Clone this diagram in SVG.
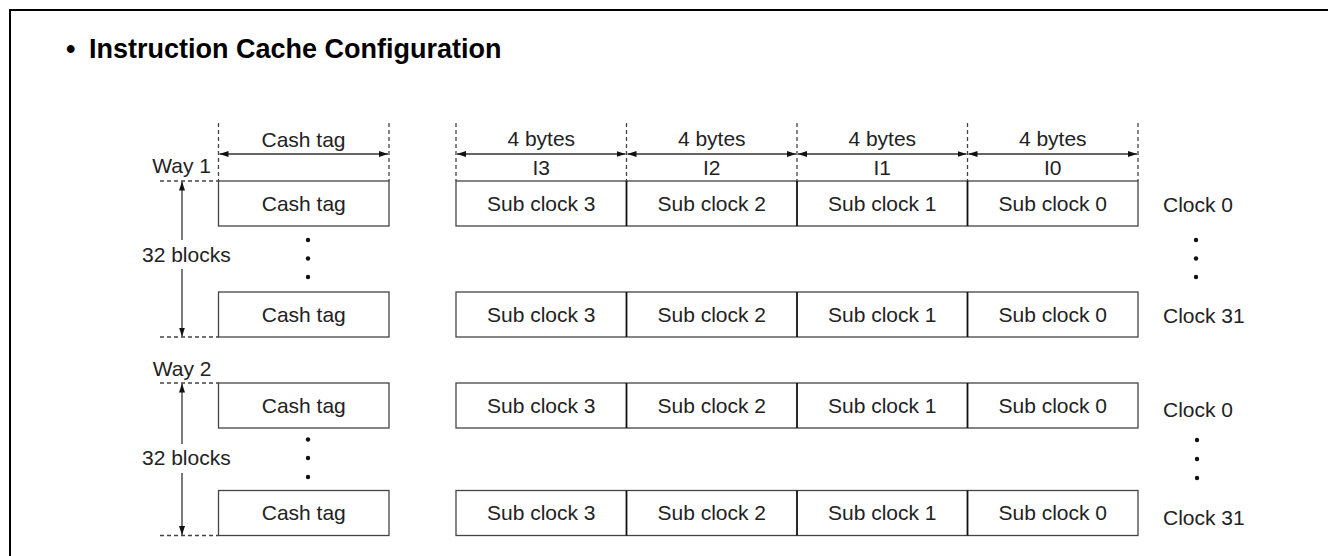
<svg xmlns="http://www.w3.org/2000/svg" width="1328" height="556" viewBox="0 0 1328 556">
<style>
text{font-family:"Liberation Sans",Arial,sans-serif;font-size:21px;fill:#222}
.title{font-size:27px;font-weight:bold;fill:#000}
.c{text-anchor:middle}
.e{text-anchor:end}
.box{fill:#fff;stroke:#444;stroke-width:1.3}
.div{stroke:#111;stroke-width:1.8}
.dash{stroke:#444;stroke-width:1.3;stroke-dasharray:4,3;fill:none}
.arr{stroke:#333;stroke-width:1.3;fill:none;marker-end:url(#ah);marker-start:url(#ah)}
.arr1{stroke:#333;stroke-width:1.3;fill:none;marker-end:url(#ah)}
.frame{stroke:#000;stroke-width:2;fill:none}
.dot{fill:#111}
</style>
<defs>
<marker id="ah" markerUnits="userSpaceOnUse" markerWidth="9" markerHeight="6" refX="9" refY="3" orient="auto-start-reverse">
<path d="M0,0 L9,3 L0,6 z" fill="#111"/>
</marker>
</defs>
<polyline class="frame" points="10,556 10,10 1328,10"/>
<g id="title">
<text class="title" x="66" y="58">•</text>
<text class="title" x="89" y="58">Instruction Cache Configuration</text>
</g>
<g id="header">
<text class="c" x="303.5" y="146.5">Cash tag</text>
<text class="c" x="541.25" y="145.5">4 bytes</text>
<text class="c" x="711.75" y="145.5">4 bytes</text>
<text class="c" x="882.25" y="145.5">4 bytes</text>
<text class="c" x="1052.75" y="145.5">4 bytes</text>
<text class="c" x="541.25" y="175">I3</text>
<text class="c" x="711.75" y="175">I2</text>
<text class="c" x="882.25" y="175">I1</text>
<text class="c" x="1052.75" y="175">I0</text>
</g>
<g id="way1-label"><text class="e" x="211" y="173">Way 1</text><text x="142" y="262">32 blocks</text></g>
<g id="way2-label"><text class="e" x="211.5" y="376">Way 2</text><text x="142" y="465">32 blocks</text></g>
<g id="w1-tag0"><rect class="box" x="218.5" y="181" width="170.5" height="45"/><text class="c" x="303.75" y="210.5">Cash tag</text></g>
<g id="w1-tag31"><rect class="box" x="218.5" y="292" width="170.5" height="45"/><text class="c" x="303.75" y="321.5">Cash tag</text></g>
<g id="w2-tag0"><rect class="box" x="218.5" y="383" width="170.5" height="45"/><text class="c" x="303.75" y="412.5">Cash tag</text></g>
<g id="w2-tag31"><rect class="box" x="218.5" y="490.5" width="170.5" height="45"/><text class="c" x="303.75" y="520">Cash tag</text></g>
<g id="w1-block0">
<rect class="box" x="456" y="181" width="682" height="45"/>
<line class="div" x1="626.5" y1="181" x2="626.5" y2="226"/><line class="div" x1="797" y1="181" x2="797" y2="226"/><line class="div" x1="967.5" y1="181" x2="967.5" y2="226"/>
<text class="c" x="541.25" y="210.5">Sub clock 3</text><text class="c" x="711.75" y="210.5">Sub clock 2</text><text class="c" x="882.25" y="210.5">Sub clock 1</text><text class="c" x="1052.75" y="210.5">Sub clock 0</text>
<text x="1163" y="212">Clock 0</text>
</g>
<g id="w1-block31">
<rect class="box" x="456" y="292" width="682" height="45"/>
<line class="div" x1="626.5" y1="292" x2="626.5" y2="337"/><line class="div" x1="797" y1="292" x2="797" y2="337"/><line class="div" x1="967.5" y1="292" x2="967.5" y2="337"/>
<text class="c" x="541.25" y="321.5">Sub clock 3</text><text class="c" x="711.75" y="321.5">Sub clock 2</text><text class="c" x="882.25" y="321.5">Sub clock 1</text><text class="c" x="1052.75" y="321.5">Sub clock 0</text>
<text x="1163" y="323">Clock 31</text>
</g>
<g id="w2-block0">
<rect class="box" x="456" y="383" width="682" height="45"/>
<line class="div" x1="626.5" y1="383" x2="626.5" y2="428"/><line class="div" x1="797" y1="383" x2="797" y2="428"/><line class="div" x1="967.5" y1="383" x2="967.5" y2="428"/>
<text class="c" x="541.25" y="412.5">Sub clock 3</text><text class="c" x="711.75" y="412.5">Sub clock 2</text><text class="c" x="882.25" y="412.5">Sub clock 1</text><text class="c" x="1052.75" y="412.5">Sub clock 0</text>
<text x="1163" y="417">Clock 0</text>
</g>
<g id="w2-block31">
<rect class="box" x="456" y="490.5" width="682" height="45"/>
<line class="div" x1="626.5" y1="490.5" x2="626.5" y2="535.5"/><line class="div" x1="797" y1="490.5" x2="797" y2="535.5"/><line class="div" x1="967.5" y1="490.5" x2="967.5" y2="535.5"/>
<text class="c" x="541.25" y="520">Sub clock 3</text><text class="c" x="711.75" y="520">Sub clock 2</text><text class="c" x="882.25" y="520">Sub clock 1</text><text class="c" x="1052.75" y="520">Sub clock 0</text>
<text x="1163" y="525">Clock 31</text>
</g>
<g id="ellipses">
<circle class="dot" cx="308" cy="240" r="2.2"/><circle class="dot" cx="308" cy="258.5" r="2.2"/><circle class="dot" cx="308" cy="277" r="2.2"/>
<circle class="dot" cx="1196" cy="240" r="2.2"/><circle class="dot" cx="1196" cy="258.5" r="2.2"/><circle class="dot" cx="1196" cy="277" r="2.2"/>
<circle class="dot" cx="308" cy="439.5" r="2.2"/><circle class="dot" cx="308" cy="458" r="2.2"/><circle class="dot" cx="308" cy="477" r="2.2"/>
<circle class="dot" cx="1197" cy="440" r="2.2"/><circle class="dot" cx="1197" cy="459" r="2.2"/><circle class="dot" cx="1197" cy="478" r="2.2"/>
</g>
<g id="connectors">
<line class="dash" x1="218.5" y1="123" x2="218.5" y2="181"/>
<line class="dash" x1="389" y1="123" x2="389" y2="181"/>
<line class="dash" x1="456" y1="123" x2="456" y2="181"/>
<line class="dash" x1="626.5" y1="123" x2="626.5" y2="181"/>
<line class="dash" x1="797" y1="123" x2="797" y2="181"/>
<line class="dash" x1="967.5" y1="123" x2="967.5" y2="181"/>
<line class="dash" x1="1138" y1="123" x2="1138" y2="181"/>
<line class="arr" x1="219.5" y1="154" x2="388" y2="154"/>
<line class="arr" x1="457" y1="154" x2="625.5" y2="154"/>
<line class="arr" x1="627.5" y1="154" x2="796" y2="154"/>
<line class="arr" x1="798" y1="154" x2="966.5" y2="154"/>
<line class="arr" x1="968.5" y1="154" x2="1137" y2="154"/>
<line class="dash" x1="160" y1="181" x2="218.5" y2="181"/>
<line class="dash" x1="160" y1="337" x2="218.5" y2="337"/>
<line class="dash" x1="160" y1="383" x2="218.5" y2="383"/>
<line class="dash" x1="160" y1="535.5" x2="218.5" y2="535.5"/>
<line class="arr1" x1="182" y1="240" x2="182" y2="181.5"/>
<line class="arr1" x1="182" y1="269" x2="182" y2="336.5"/>
<line class="arr1" x1="182" y1="444" x2="182" y2="383.5"/>
<line class="arr1" x1="182" y1="473" x2="182" y2="535"/>
</g>
</svg>
